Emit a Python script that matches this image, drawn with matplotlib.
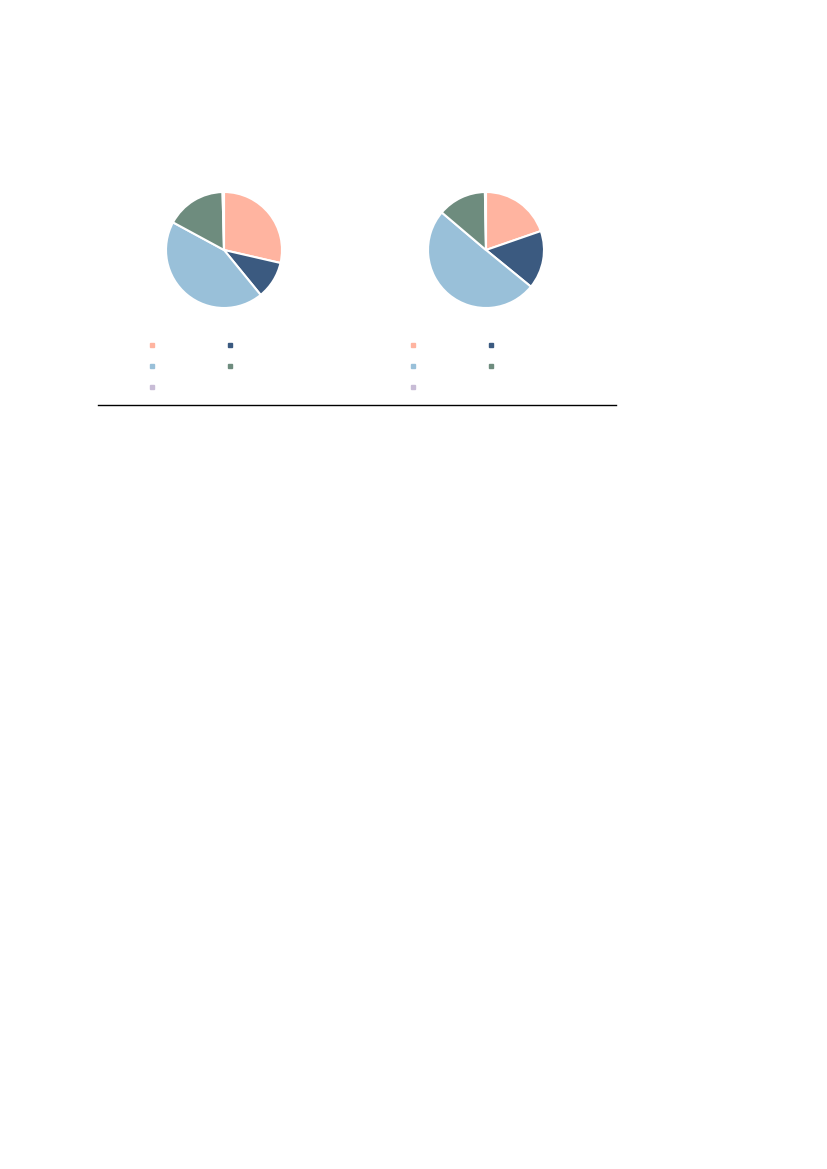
import matplotlib
matplotlib.use("Agg")
import matplotlib.pyplot as plt
from matplotlib.lines import Line2D

categories = ["Category A", "Category B", "Category C", "Category D", "Category E"]
left_values = [28.6, 10.5, 43.8, 16.7, 0.4]
right_values = [19.7, 16.2, 50.3, 13.5, 0.3]
colors = ["#FFB4A0", "#3B5A80", "#99C0D9", "#6E8C7E", "#C8BCD6"]

W, H = 827, 1169
fig = plt.figure(figsize=(W / 100, H / 100), dpi=100)
fig.patch.set_facecolor("white")

R = 58
centers = [(224, 250), (486, 250)]
legend_x = [149, 410]

for (cx, cy), vals, lx in zip(centers, [left_values, right_values], legend_x):
    ax = fig.add_axes([(cx - R) / W, (H - cy - R) / H, 2 * R / W, 2 * R / H])
    ax.pie(vals, colors=colors, startangle=90, counterclock=False,
           wedgeprops=dict(edgecolor="white", linewidth=1.5))
    ax.set_xlim(-1, 1)
    ax.set_ylim(-1, 1)
    ax.set_aspect("equal")
    ax.axis("off")

    order = [0, 2, 4, 1, 3]
    handles = [Line2D([], [], marker="s", linestyle="none", markersize=3.2,
                      markerfacecolor=colors[i], markeredgecolor=colors[i]) for i in order]
    labels = [categories[i] for i in order]
    leg = fig.legend(handles, labels, loc="upper left",
                     bbox_to_anchor=(lx / W, 1 - 340 / H),
                     ncol=2, frameon=False, fontsize=7, labelcolor="white",
                     handlelength=0.6, handletextpad=0.5, columnspacing=1.4,
                     labelspacing=1.15, borderpad=0, borderaxespad=0)

fig.add_artist(Line2D([98 / W, 616 / W], [1 - 405 / H, 1 - 405 / H],
                      color="black", linewidth=1.0, transform=fig.transFigure))

fig.savefig("out.png", dpi=100, facecolor="white")
